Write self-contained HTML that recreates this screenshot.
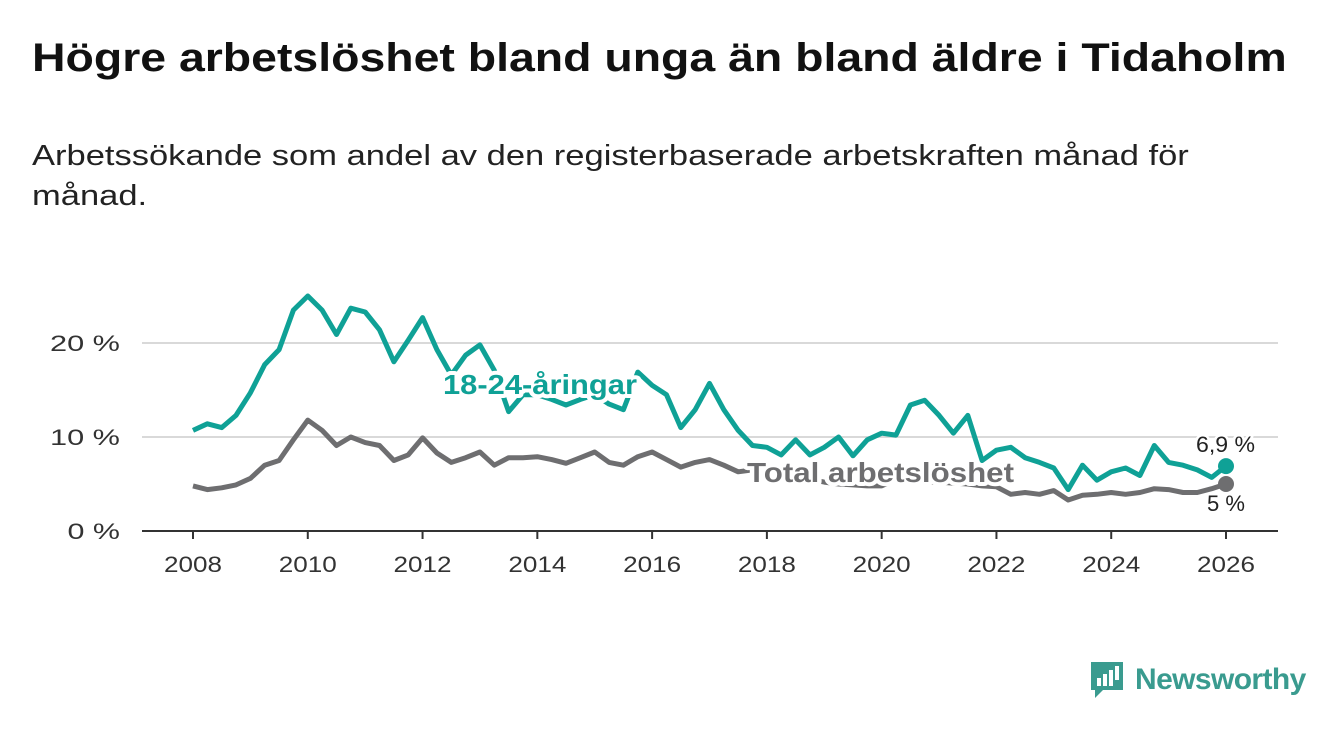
<!DOCTYPE html>
<html><head><meta charset="utf-8"><style>
body{margin:0;background:#fff;font-family:"Liberation Sans",sans-serif;}
#wrap{position:relative;width:1340px;height:734px;overflow:hidden;}
h1{position:absolute;left:32px;top:36px;margin:0;font-size:40px;font-weight:bold;color:#111;white-space:nowrap;transform:scaleX(1.16);transform-origin:left top}
p.sub{position:absolute;left:32px;top:136px;margin:0;font-size:29px;line-height:40px;color:#222;white-space:nowrap;transform:scaleX(1.19);transform-origin:left top}
</style></head><body>
<div id="wrap">
<h1>Högre arbetslöshet bland unga än bland äldre i Tidaholm</h1>
<p class="sub">Arbetssökande som andel av den registerbaserade arbetskraften månad för<br>månad.</p>
<svg id="chart" width="1340" height="734" style="position:absolute;left:0;top:0"></svg>
<div style="position:absolute;left:1089px;top:660px;display:flex;align-items:center;">
<svg width="36" height="40"><path d="M2 2h32v28h-20l-8 8v-8h-4z" fill="#3a9b8f"/><rect x="8" y="18" width="4" height="8" fill="#fff"/><rect x="14" y="14" width="4" height="12" fill="#fff"/><rect x="20" y="10" width="4" height="16" fill="#fff"/><rect x="26" y="6" width="4" height="14" fill="#fff"/></svg>
<span style="font-size:30px;color:#3a9b8f;margin-left:10px;font-weight:bold;letter-spacing:-0.6px">Newsworthy</span></div>
</div>
<script>
const youth=[10.7,11.4,11.0,12.3,14.7,17.7,19.3,23.5,25.0,23.5,20.9,23.7,23.3,21.4,18.0,20.3,22.7,19.3,16.6,18.7,19.8,17.1,12.7,14.5,14.5,14.0,13.4,14.0,14.5,13.5,12.9,16.9,15.5,14.5,11.0,12.9,15.7,12.9,10.7,9.1,8.9,8.1,9.7,8.1,8.9,10.0,8.0,9.7,10.4,10.2,13.4,13.9,12.3,10.4,12.3,7.5,8.6,8.9,7.8,7.3,6.7,4.4,7.0,5.4,6.3,6.7,5.9,9.1,7.3,7.0,6.5,5.7,6.9];
const total=[4.8,4.4,4.6,4.9,5.6,7.0,7.5,9.7,11.8,10.7,9.1,10.0,9.4,9.1,7.5,8.1,9.9,8.3,7.3,7.8,8.4,7.0,7.8,7.8,7.9,7.6,7.2,7.8,8.4,7.3,7.0,7.9,8.4,7.6,6.8,7.3,7.6,7.0,6.3,6.5,6.0,5.8,5.7,5.5,5.2,5.0,4.9,4.8,4.8,5.5,5.3,5.2,5.2,5.1,5.0,4.8,4.7,3.9,4.1,3.9,4.3,3.3,3.8,3.9,4.1,3.9,4.1,4.5,4.4,4.1,4.1,4.5,5.0];
const startYear=2008;
const stepYears=0.25;
const yTicks=[0,10,20];
const yTickLabels=["0 %","10 %","20 %"];
const xTicks=[2008,2010,2012,2014,2016,2018,2020,2022,2024,2026];
const svg=document.getElementById('chart');
const NS='http://www.w3.org/2000/svg';
const X=yr=>193+(yr-2008)*(1226-193)/18;
const Y=v=>531-v*9.4;
function mk(t,a){const e=document.createElementNS(NS,t);for(const k in a)e.setAttribute(k,a[k]);svg.appendChild(e);return e;}
yTicks.forEach((t,i)=>{
 if(t>0){const g=mk('line',{x1:142,x2:1278,y1:Y(t),y2:Y(t),stroke:'#d9d9d9','stroke-width':2});
 
 }
 const l=mk('text',{x:120,y:Y(t)+8,'text-anchor':'end','font-size':22,fill:'#333',textLength:yTickLabels[i].length*17.5,lengthAdjust:'spacingAndGlyphs'});l.textContent=yTickLabels[i];
 
 
});
const ax=mk('line',{x1:142,x2:1278,y1:531,y2:531,stroke:'#333','stroke-width':2});


xTicks.forEach(t=>{
 const tk=mk('line',{x1:X(t),x2:X(t),y1:531,y2:539,stroke:'#333','stroke-width':2});
 
 
 const l=mk('text',{x:X(t),y:572,'text-anchor':'middle','font-size':22,fill:'#333',textLength:58,lengthAdjust:'spacingAndGlyphs'});l.textContent=t;
 
 
});
function line(d,col,name){
 const p=d.map((v,i)=>(i?'L':'M')+X(startYear+i*stepYears).toFixed(1)+' '+Y(v).toFixed(1)).join(' ');
 const e=mk('path',{d:p,fill:'none',stroke:col,'stroke-width':5,'stroke-linejoin':'round'});
 
 
 const n=d.length-1;
 const c=mk('circle',{cx:X(startYear+n*stepYears),cy:Y(d[n]),r:8,fill:col});
 
 
}
line(total,'#6e6e70','total-line');
line(youth,'#0fa196','youth-line');
function lab(txt,x,y,col,name,size,bold,len){
 const t=mk('text',{x:x,y:y,'font-size':size,fill:col,'font-weight':bold?'bold':'normal',stroke:'#fff','stroke-width':bold?8:5,'paint-order':'stroke','stroke-linejoin':'round',textLength:len,lengthAdjust:'spacingAndGlyphs'});
 t.textContent=txt;
 
 
}
lab('18-24-åringar',443,394,'#0fa196','youth-series-label',28,true,194);
lab('Total arbetslöshet',747,482,'#6e6e70','total-series-label',28,true,267);
lab('6,9 %',1196,452,'#222','youth-end-value',22,false,59);
lab('5 %',1207,511,'#222','total-end-value',22,false,38);
</script>
</body></html>
